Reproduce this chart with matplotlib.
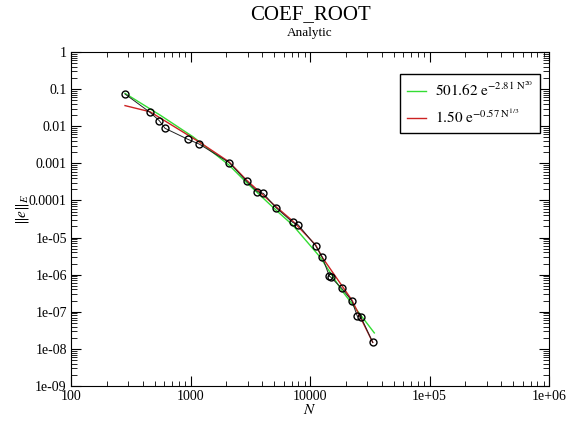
import matplotlib
matplotlib.use("Agg")
import matplotlib.pyplot as plt
from matplotlib.ticker import LogLocator, FixedFormatter, NullFormatter

plt.rcParams['font.family'] = ['Liberation Serif', 'DejaVu Serif']
plt.rcParams['mathtext.fontset'] = 'stix'

# measured error vs N
n_data = [283, 458, 548, 612, 948, 1185, 2113, 2953, 3623, 4066, 5190, 7165, 7980,
          11160, 12680, 14520, 14850, 18410, 22340, 24890, 26720, 33480]
err_data = [0.074, 0.0237, 0.0141, 0.0088, 0.00446, 0.0033, 0.00104, 3.27e-4, 1.72e-4,
            1.55e-4, 6.4e-5, 2.57e-5, 2.18e-5, 6.0e-6, 2.93e-6, 9.1e-7, 8.7e-7, 4.3e-7,
            2.0e-7, 7.6e-8, 7.1e-8, 1.5e-8]

# fit curves
n_fit1 = [283, 556, 1049, 2099, 2953, 5190, 7165, 12130, 18410, 34510]
err_fit1 = [0.077, 0.020, 5.2e-3, 9.0e-4, 3.0e-4, 5.5e-5, 2.17e-5, 3.0e-6, 3.8e-7, 2.7e-8]
n_fit2 = [283, 458, 1178, 2099, 2953, 5190, 7165, 11160, 12600, 22340, 33480]
err_fit2 = [0.036, 0.0246, 3.8e-3, 1.1e-3, 3.5e-4, 6.8e-5, 2.8e-5, 6.3e-6, 3.0e-6, 2.1e-7, 1.5e-8]

x_ticks = [100, 1000, 10000, 1e5, 1e6]
x_labels = ['100', '1000', '10000', '1e+05', '1e+06']
y_ticks = [1, 0.1, 0.01, 0.001, 0.0001, 1e-5, 1e-6, 1e-7, 1e-8, 1e-9]
y_labels = ['1', '0.1', '0.01', '0.001', '0.0001', '1e-05', '1e-06', '1e-07', '1e-08', '1e-09']

fig = plt.figure(figsize=(5.7, 4.21), dpi=100)
ax = fig.add_axes([0.1246, 0.0831, 0.8386, 0.7933])

ax.plot(n_fit1, err_fit1, color='#33dd33', lw=1,
        label=r'$\mathrm{501.62\ e^{-2.81\ N^{20}}}$')
ax.plot(n_fit2, err_fit2, color='#cc2222', lw=1,
        label=r'$\mathrm{1.50\ e^{-0.57\ N^{1/3}}}$')
ax.plot(n_data, err_data, color='#222222', lw=0.7, marker='o', ms=5,
        mfc='none', mec='black', mew=1)

ax.set_xscale('log')
ax.set_yscale('log')
ax.set_xlim(100, 1e6)
ax.set_ylim(1e-9, 1)

ax.set_xticks(x_ticks)
ax.xaxis.set_major_formatter(FixedFormatter(x_labels))
ax.set_yticks(y_ticks)
ax.yaxis.set_major_formatter(FixedFormatter(y_labels))
ax.xaxis.set_minor_locator(LogLocator(base=10, subs=range(2, 10), numticks=20))
ax.yaxis.set_minor_locator(LogLocator(base=10, subs=range(2, 10), numticks=20))
ax.xaxis.set_minor_formatter(NullFormatter())
ax.yaxis.set_minor_formatter(NullFormatter())
ax.tick_params(which='both', direction='in', top=True, right=True, labelsize=10)
ax.tick_params(which='major', length=7, pad=3)
ax.tick_params(axis='x', which='minor', length=3.5)
ax.tick_params(axis='y', which='minor', length=4.5)

ax.set_xlabel(r'$N$', fontsize=11, labelpad=0)
ax.set_ylabel(r'$\Vert e\Vert_E$', fontsize=11)
ax.yaxis.set_label_coords(-0.083, 0.53)

fig.text(0.544, 0.954, 'COEF_ROOT', ha='center', va='baseline', fontsize=15)
fig.text(0.544, 0.914, 'Analytic', ha='center', va='baseline', fontsize=9.5)

leg = ax.legend(loc='upper right', bbox_to_anchor=(0.981, 0.934), fancybox=False,
                framealpha=1, edgecolor='black', fontsize=11, handlelength=1.3,
                handletextpad=0.55, borderpad=0.45, labelspacing=0.5, borderaxespad=0)
leg.get_frame().set_linewidth(1)

fig.savefig('out.png', dpi=100)
